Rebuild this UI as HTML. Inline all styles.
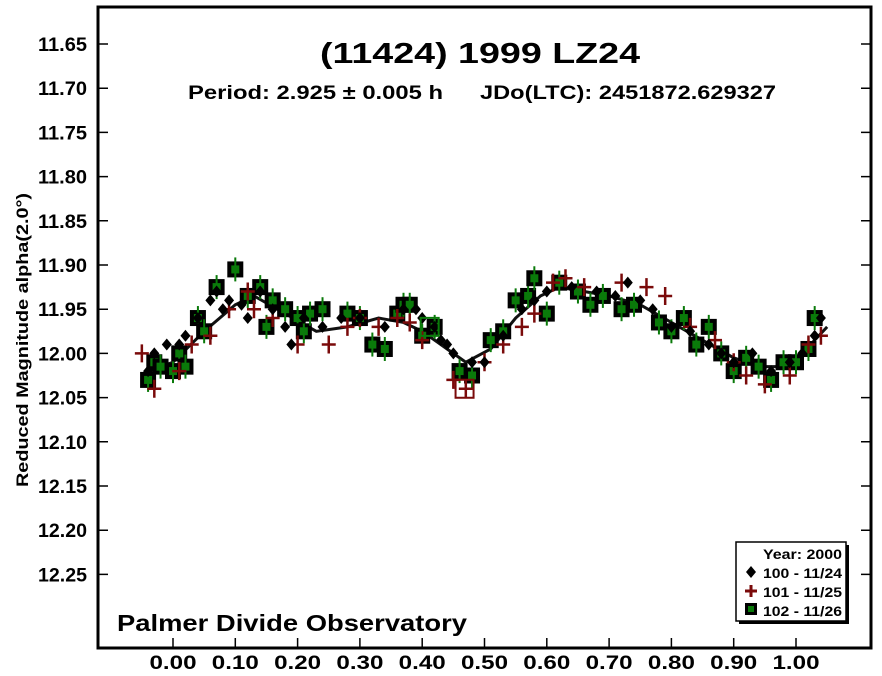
<!DOCTYPE html>
<html><head><meta charset="utf-8"><style>
body{margin:0;background:#fff}
svg{display:block;font-family:"Liberation Sans",sans-serif;font-weight:bold}
</style></head><body>
<svg id="c" width="882" height="676" viewBox="0 0 882 676">
<rect x="0" y="0" width="882" height="676" fill="#fff"/>
<rect x="98" y="7" width="773" height="641" fill="none" stroke="#000" stroke-width="3"/>
<text x="320" y="63" font-size="29" textLength="320" lengthAdjust="spacingAndGlyphs">(11424) 1999 LZ24</text>
<text x="188" y="99" font-size="19" textLength="255" lengthAdjust="spacingAndGlyphs">Period: 2.925 ± 0.005 h</text>
<text x="480" y="99" font-size="19" textLength="296" lengthAdjust="spacingAndGlyphs">JDo(LTC): 2451872.629327</text>
<text transform="translate(28,340) rotate(-90)" font-size="17" text-anchor="middle" textLength="294" lengthAdjust="spacingAndGlyphs">Reduced Magnitude alpha(2.0°)</text>
<text x="117" y="631" font-size="23" textLength="350" lengthAdjust="spacingAndGlyphs">Palmer Divide Observatory</text>
<g id="axes"></g><g id="curve"></g><g id="marks"></g>
<g>
<rect x="739" y="545" width="110" height="79" fill="#000"/>
<rect x="736" y="542" width="110" height="79" fill="#fff" stroke="#000" stroke-width="1.5"/>
<text x="842" y="559" font-size="14" text-anchor="end" textLength="79" lengthAdjust="spacingAndGlyphs">Year: 2000</text>
<path d="M751 566 l5 6 l-5 6 l-5 -6z" fill="#000"/><text x="842" y="578" font-size="14" text-anchor="end" textLength="79" lengthAdjust="spacingAndGlyphs">100 - 11/24</text>
<path d="M745 591 h12 M751 585 v12" stroke="#7a0a0a" stroke-width="3"/><text x="842" y="597" font-size="14" text-anchor="end" textLength="79" lengthAdjust="spacingAndGlyphs">101 - 11/25</text>
<rect x="745" y="603" width="12" height="12" fill="#000"/><rect x="748" y="606" width="6" height="6" fill="#0a7a0a"/><text x="842" y="616" font-size="14" text-anchor="end" textLength="79" lengthAdjust="spacingAndGlyphs">102 - 11/26</text>
</g>
</svg>
<script>
const xTicks=[0,0.1,0.2,0.3,0.4,0.5,0.6,0.7,0.8,0.9,1.0];
const yTicks=[11.65,11.70,11.75,11.80,11.85,11.90,11.95,12.00,12.05,12.10,12.15,12.20,12.25];
const curvePhase=[-0.04,0,0.05,0.1,0.13,0.18,0.23,0.28,0.33,0.37,0.40,0.44,0.47,0.51,0.55,0.59,0.62,0.66,0.70,0.75,0.80,0.85,0.90,0.94,0.97,1.01,1.05];
const curveMag=[12.02,12.01,11.975,11.945,11.935,11.955,11.975,11.97,11.96,11.965,11.975,11.995,12.01,11.995,11.96,11.935,11.925,11.93,11.935,11.945,11.965,11.985,12.005,12.015,12.015,12.0,11.97];
const p100=[-0.04,-0.03,-0.01,0.01,0.02,0.04,0.06,0.07,0.08,0.09,0.11,0.12,0.14,0.16,0.18,0.19,0.21,0.24,0.27,0.30,0.34,0.37,0.39,0.40,0.42,0.43,0.44,0.45,0.48,0.50,0.53,0.56,0.58,0.60,0.64,0.68,0.71,0.73,0.75,0.77,0.80,0.83,0.86,0.88,0.90,0.93,0.96,0.99,1.01,1.03,1.04];
const m100=[12.02,12.00,11.99,11.99,11.98,11.96,11.94,11.93,11.95,11.94,11.945,11.96,11.93,11.95,11.97,11.99,11.96,11.97,11.96,11.96,11.97,11.95,11.95,11.96,11.97,11.985,11.99,12.00,12.01,12.01,11.98,11.95,11.94,11.93,11.925,11.93,11.935,11.92,11.94,11.95,11.97,11.975,11.99,12.00,12.01,12.00,12.02,12.01,12.00,11.98,11.96];
const p101=[-0.05,-0.03,0.01,0.03,0.06,0.09,0.12,0.13,0.16,0.20,0.25,0.28,0.30,0.33,0.36,0.38,0.40,0.45,0.47,0.50,0.53,0.56,0.58,0.61,0.63,0.66,0.72,0.76,0.79,0.83,0.87,0.90,0.92,0.95,0.99,1.02,1.04];
const m101=[12.00,12.04,12.02,11.99,11.98,11.95,11.93,11.95,11.96,11.99,11.99,11.97,11.96,11.97,11.96,11.965,11.985,12.03,12.04,12.01,11.99,11.97,11.955,11.92,11.915,11.925,11.92,11.925,11.935,11.97,11.985,12.01,12.025,12.035,12.025,11.99,11.98];
const p102=[-0.04,-0.03,-0.02,0.00,0.01,0.02,0.04,0.05,0.07,0.10,0.12,0.14,0.15,0.16,0.18,0.20,0.21,0.22,0.24,0.28,0.30,0.32,0.34,0.36,0.37,0.38,0.40,0.42,0.46,0.48,0.51,0.53,0.55,0.57,0.58,0.60,0.62,0.65,0.67,0.69,0.72,0.74,0.78,0.80,0.82,0.84,0.86,0.88,0.90,0.92,0.94,0.96,0.98,1.00,1.02,1.03];
const m102=[12.03,12.01,12.015,12.02,12.00,12.015,11.96,11.975,11.925,11.905,11.935,11.925,11.97,11.94,11.95,11.96,11.975,11.955,11.95,11.955,11.96,11.99,11.995,11.955,11.945,11.945,11.98,11.97,12.02,12.025,11.985,11.975,11.94,11.935,11.915,11.955,11.92,11.93,11.945,11.935,11.95,11.945,11.965,11.975,11.96,11.99,11.97,12.00,12.02,12.005,12.015,12.03,12.01,12.01,11.995,11.96];
const X=p=>173+p*623, Y=m=>44+(m-11.65)/0.05*44.2;
const NS="http://www.w3.org/2000/svg";
function mk(t,a,parent){const e=document.createElementNS(NS,t);for(const k in a)e.setAttribute(k,a[k]);parent.appendChild(e);return e;}
const ax=document.getElementById('axes');
xTicks.forEach(t=>{
 const x=X(t);
 const l=mk('line',{x1:x,x2:x,y1:648,y2:638,stroke:'#000','stroke-width':1.5},ax);
 
 
 const tx=mk('text',{x:x,y:669,'font-size':19,'text-anchor':'middle',textLength:47,lengthAdjust:'spacingAndGlyphs'},ax);tx.textContent=t.toFixed(2);
 
 
});
yTicks.forEach(t=>{
 const y=Y(t);
 const l=mk('path',{d:`M98 ${y}h10M871 ${y}h-10`,stroke:'#000','stroke-width':1.5},ax);
 
 
 const tx=mk('text',{x:87,y:y+7,'font-size':19,'text-anchor':'end',textLength:49,lengthAdjust:'spacingAndGlyphs'},ax);tx.textContent=t.toFixed(2);
 
 
});
const cv=mk('path',{d:curvePhase.map((p,i)=>(i?'L':'M')+X(p)+' '+Y(curveMag[i])).join(''),fill:'none',stroke:'#111','stroke-width':3},document.getElementById('curve'));


const g=document.getElementById('marks');
p102.forEach((p,i)=>{const x=X(p),y=Y(m102[i]);
 const e=mk('g',{},g);
 
 
 mk('rect',{x:x-8,y:y-8,width:16,height:16,fill:'#000'},e);
 mk('rect',{x:x-4,y:y-4,width:8,height:8,fill:'#0a7a0a'},e);
 mk('line',{x1:x,x2:x,y1:y-12,y2:y+12,stroke:'#0a7a0a','stroke-width':2},e);});
p101.forEach((p,i)=>{const x=X(p),y=Y(m101[i]);
 const e=mk('path',{d:`M${x-7} ${y}h14M${x} ${y-9}v18`,stroke:'#7a0a0a','stroke-width':2.5},g);
 
 });
p100.forEach((p,i)=>{const x=X(p),y=Y(m100[i]);
 const e=mk('path',{d:`M${x} ${y-6}l5 6l-5 6l-5 -6z`,fill:'#000'},g);
 
 });
const s1=mk('rect',{x:X(0.468)-9,y:Y(12.04)-9,width:18,height:18,fill:'none',stroke:'#7a0a0a','stroke-width':2},g);


const s2=mk('rect',{x:X(0.412)-9,y:Y(11.97)-9,width:18,height:18,fill:'none',stroke:'#0a7a0a','stroke-width':2},g);


</script>
</body></html>
